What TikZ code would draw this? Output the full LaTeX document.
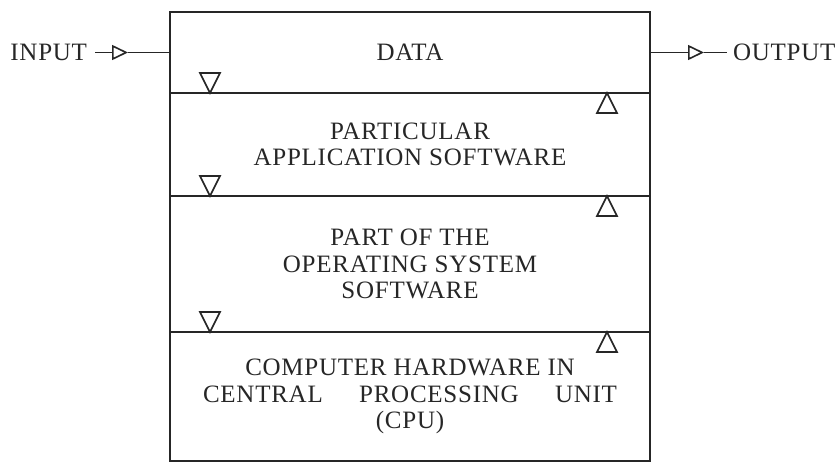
\documentclass[tikz,border=0pt]{standalone}
\usepackage{fontspec}
\setmainfont{Liberation Serif}[LetterSpace=3]
\usetikzlibrary{positioning,arrows.meta}

\tikzset{
  capa/.style={draw=black!85, line width=0.9pt, minimum width=240pt,
    inner sep=0pt, outer sep=0pt, align=center, text=black!85,
    font=\fontsize{12.5}{13.4}\selectfont},
  etiqueta/.style={inner sep=0pt, outer xsep=4pt, text=black!85,
    font=\fontsize{12.5}{13.4}\selectfont},
  flujo/.style={draw=black!85, line width=0.8pt,
    -{Triangle[open,length=8pt,width=7.5pt]}},
  linea/.style={draw=black!85, line width=0.8pt},
  marca/.style={draw=black!85, line width=0.8pt, line join=miter}
}

\begin{document}
\begin{tikzpicture}[x=0.5pt,y=0.5pt]
\useasboundingbox (0,0) rectangle (840,463);

% Las cuatro capas, una debajo de otra
\node[capa, minimum height=40.5pt, anchor=north] (data) at (410,451) {DATA};
\node[capa, minimum height=51.5pt, below=0pt of data] (app)
  {PARTICULAR\\APPLICATION SOFTWARE};
\node[capa, minimum height=68pt, below=0pt of app] (os)
  {PART OF THE\\OPERATING SYSTEM\\SOFTWARE};
\node[capa, minimum height=64.5pt, below=0pt of os] (cpu)
  {COMPUTER HARDWARE IN\\\makebox[207pt]{CENTRAL\hfill PROCESSING\hfill UNIT}\\(CPU)};

% Triangulos hacia abajo (izquierda) y hacia arriba (derecha)
\foreach \s in {data,app,os}
  \draw[marca] ([xshift=20pt]\s.south west) -- ++(-5pt,10pt) -- ++(10pt,0pt) -- cycle;
\foreach \s in {app,os,cpu}
  \draw[marca] ([xshift=-21.5pt]\s.north east) -- ++(-5pt,-10pt) -- ++(10pt,0pt) -- cycle;

% Entrada
\coordinate (intip) at ([xshift=-21pt]data.west);
\node[etiqueta, anchor=east] (input) at ([xshift=-16.5pt]intip) {INPUT};
\draw[flujo] (input) -- (intip);
\draw[linea] (intip) -- (data);

% Salida
\coordinate (outtip) at ([xshift=27pt]data.east);
\node[etiqueta, outer xsep=3pt, anchor=west] (output) at ([xshift=11.5pt]outtip) {OUTPUT};
\draw[flujo] (data) -- (outtip);
\draw[linea] (outtip) -- (output);
\end{tikzpicture}
\end{document}
